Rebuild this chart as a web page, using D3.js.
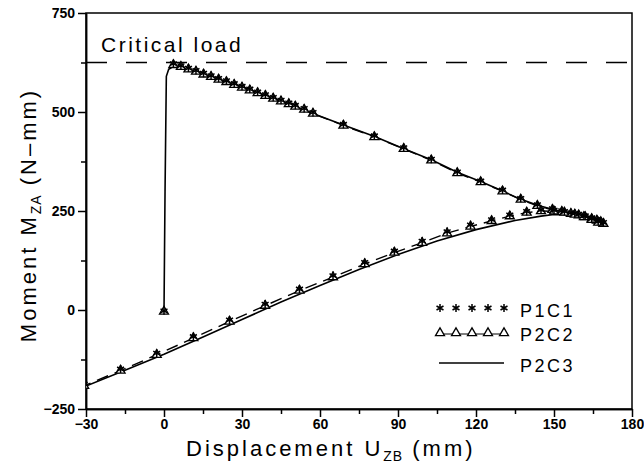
<!DOCTYPE html>
<html>
<head>
<meta charset="utf-8">
<script src="https://cdn.jsdelivr.net/npm/d3@7"></script>
<style>
  body { margin: 0; background: #fff; }
  .axis path, .axis line { stroke: #000; stroke-width: 1.5; }
  .axis text { font-family: "Liberation Sans", Arial, sans-serif; font-weight: bold; font-size: 14px; fill: #000; }
  .title { font-family: "Liberation Sans", Arial, sans-serif; font-size: 22px; letter-spacing: 3px; fill: #000; }
  .crit { font-family: "Liberation Sans", Arial, sans-serif; font-size: 21px; letter-spacing: 2.5px; fill: #000; }
  .legend text { font-family: "Liberation Sans", Arial, sans-serif; font-size: 18px; letter-spacing: 2.5px; fill: #000; }
</style>
</head>
<body>
<script>
// values
var xTicks = [-30, 0, 30, 60, 90, 120, 150, 180];
var yTicks = [-250, 0, 250, 500, 750];
var criticalLoad = 625;

// P2C3 - solid line
var p2c3X = [0, 0.4, 0.9, 1.8, 3.5, 10, 20, 30, 45, 57, 69, 81, 92, 103, 113, 122, 130, 137, 144, 150, 156, 162, 166, 169,
             165, 160, 155, 150, 145, 135, 120, 105, 90, 75, 60, 45, 30, 15, 0, -15, -30, -31.5];
var p2c3Y = [-4, 300, 590, 608, 615, 607, 585, 563, 528, 497, 467, 438, 408, 379, 347, 324, 301, 280, 264, 253, 245, 237, 228, 218,
             226, 234, 240, 241, 237, 226, 203, 174, 140, 102, 62, 20, -24, -68, -112, -152, -192, -196];

// marker positions (P1C1 stars, P2C2 triangles + dashed line)
var markX = [0, 3.6, 6.5, 9.4, 12.3, 15.2, 18.1, 21, 24, 27, 30, 33, 36, 39, 42, 45, 48, 50.5, 53.9, 57.3,
             69, 80.9, 92.2, 102.8, 112.8, 121.8, 130.2, 137.2, 143.6, 149.4, 153, 156.5, 159.5, 162, 164.5, 166.5, 168, 169,
             167, 164.5, 161.5, 158, 154, 150, 145, 139.5, 133, 126, 117.9, 108.9, 99.3, 88.6, 77.2, 65, 52.1, 38.9, 25.2, 11.3, -2.8, -16.7, -30.7];
var p2c2Y = [-4, 619, 614, 608, 602, 595, 589, 582, 576, 569, 562, 555, 548, 541, 534, 527, 520, 514, 506, 496,
             466, 437, 407, 378, 346, 323, 300, 279, 263, 253, 248, 243, 239, 235, 230, 226, 222, 218,
             221, 228, 235, 241, 246, 249, 250, 246, 237, 225, 211, 194, 170, 145, 116, 83, 49, 11, -29, -71, -113, -153, -191];
var p1c1Y = [-2, 622, 617, 611, 605, 598, 592, 585, 579, 572, 565, 558, 551, 544, 537, 530, 523, 517, 509, 499,
             469, 440, 410, 381, 349, 326, 303, 282, 266, 256, 251, 246, 242, 238, 233, 229, 225, 221,
             224, 231, 238, 244, 249, 252, 253, 249, 240, 228, 215, 198, 174, 149, 120, 87, 53, 15, -25, -67, -109, -149, -187];

var margin = {top: 13, right: 12, bottom: 56, left: 86},
    width = 644 - margin.left - margin.right,
    height = 465 - margin.top - margin.bottom;

var svg = d3.select("body").append("svg")
    .attr("width", 644)
    .attr("height", 465)
    .append("g")
    .attr("transform", "translate(" + margin.left + "," + margin.top + ")");

var xScale = d3.scaleLinear().domain([-30, 180]).range([0, width]);
var yScale = d3.scaleLinear().domain([-250, 750]).range([height, 0]);

svg.append("clipPath").attr("id", "plot")
    .append("rect").attr("width", width).attr("height", height);

// minor ticks
svg.append("g")
    .attr("class", "axis")
    .attr("transform", "translate(0," + height + ")")
    .call(d3.axisBottom(xScale).tickValues(d3.range(-15, 180, 30)).tickSize(5).tickSizeOuter(0).tickFormat(""));
svg.append("g")
    .attr("class", "axis")
    .call(d3.axisLeft(yScale).tickValues([-125, 125, 375, 625]).tickSize(5).tickSizeOuter(0).tickFormat(""));

// major ticks
svg.append("g")
    .attr("class", "axis")
    .attr("transform", "translate(0," + height + ")")
    .call(d3.axisBottom(xScale).tickValues(xTicks).tickSize(8).tickSizeOuter(0).tickPadding(2));
svg.append("g")
    .attr("class", "axis")
    .call(d3.axisLeft(yScale).tickValues(yTicks).tickSize(8).tickSizeOuter(0).tickPadding(3));

// frame
svg.append("rect")
    .attr("width", width).attr("height", height)
    .attr("fill", "none").attr("stroke", "#000").attr("stroke-width", 1.5);

// critical load
svg.append("line")
    .attr("x1", 0).attr("x2", width)
    .attr("y1", yScale(criticalLoad)).attr("y2", yScale(criticalLoad))
    .attr("stroke", "#000").attr("stroke-width", 1.3)
    .attr("stroke-dasharray", "21,19");
svg.append("text")
    .attr("class", "crit")
    .attr("x", 15).attr("y", 39)
    .text("Critical load");

var lineGen = d3.line()
    .x(function(d) { return xScale(d[0]); })
    .y(function(d) { return yScale(d[1]); });

var plot = svg.append("g").attr("clip-path", "url(#plot)");

plot.append("path")
    .attr("d", lineGen(d3.zip(p2c3X, p2c3Y)))
    .attr("fill", "none").attr("stroke", "#000").attr("stroke-width", 1.6);

// dashed P2C2 line (from the first point past the vertical rise)
plot.append("path")
    .attr("d", lineGen(d3.zip(markX, p2c2Y).slice(1)))
    .attr("fill", "none").attr("stroke", "#000").attr("stroke-width", 1.4)
    .attr("stroke-dasharray", "12,7");

var tri = d3.symbol(d3.symbolTriangle2, 58);
var star = d3.symbol(d3.symbolAsterisk, 45);

plot.selectAll(".tri")
    .data(d3.zip(markX, p2c2Y))
    .enter().append("path")
    .attr("d", tri)
    .attr("transform", function(d) { return "translate(" + xScale(d[0]) + "," + yScale(d[1]) + ")"; })
    .attr("fill", "#fff").attr("stroke", "#000").attr("stroke-width", 1.3);

plot.selectAll(".star")
    .data(d3.zip(markX, p1c1Y))
    .enter().append("path")
    .attr("d", star)
    .attr("transform", function(d) { return "translate(" + xScale(d[0]) + "," + yScale(d[1]) + ")"; })
    .attr("fill", "none").attr("stroke", "#000").attr("stroke-width", 1.5);

// axis titles
var xt = svg.append("text")
    .attr("class", "title")
    .attr("x", 100).attr("y", height + 47);
xt.append("tspan").text("Displacement  U");
xt.append("tspan").attr("font-size", "14px").attr("dy", 5).attr("letter-spacing", "1px").text("ZB");
xt.append("tspan").attr("dy", -5).text("  (mm)");

var yt = svg.append("text")
    .attr("class", "title")
    .attr("transform", "translate(-50," + (height / 2 + 4) + ") rotate(-90)")
    .attr("text-anchor", "middle");
yt.append("tspan").text("Moment  M");
yt.append("tspan").attr("font-size", "14px").attr("dy", 5).attr("letter-spacing", "1px").text("ZA");
yt.append("tspan").attr("dy", -5).text("  (N\u2013mm)");

// legend
var legend = svg.append("g").attr("class", "legend");
var lx = [354, 370, 386, 402, 418];
lx.forEach(function(x) {
    legend.append("path").attr("d", star)
        .attr("transform", "translate(" + x + "," + 295 + ")")
        .attr("fill", "none").attr("stroke", "#000").attr("stroke-width", 1.5);
});
legend.append("line")
    .attr("x1", lx[0]).attr("x2", lx[4]).attr("y1", 321).attr("y2", 321)
    .attr("stroke", "#000").attr("stroke-width", 1.2);
lx.forEach(function(x) {
    legend.append("path").attr("d", tri)
        .attr("transform", "translate(" + x + "," + 320 + ")")
        .attr("fill", "#fff").attr("stroke", "#000").attr("stroke-width", 1.3);
});
legend.append("line")
    .attr("x1", 353).attr("x2", 418).attr("y1", 350).attr("y2", 350)
    .attr("stroke", "#000").attr("stroke-width", 1.6);
legend.append("text").attr("x", 434).attr("y", 304).text("P1C1");
legend.append("text").attr("x", 434).attr("y", 328).text("P2C2");
legend.append("text").attr("x", 434).attr("y", 359).text("P2C3");
</script>
</body>
</html>
